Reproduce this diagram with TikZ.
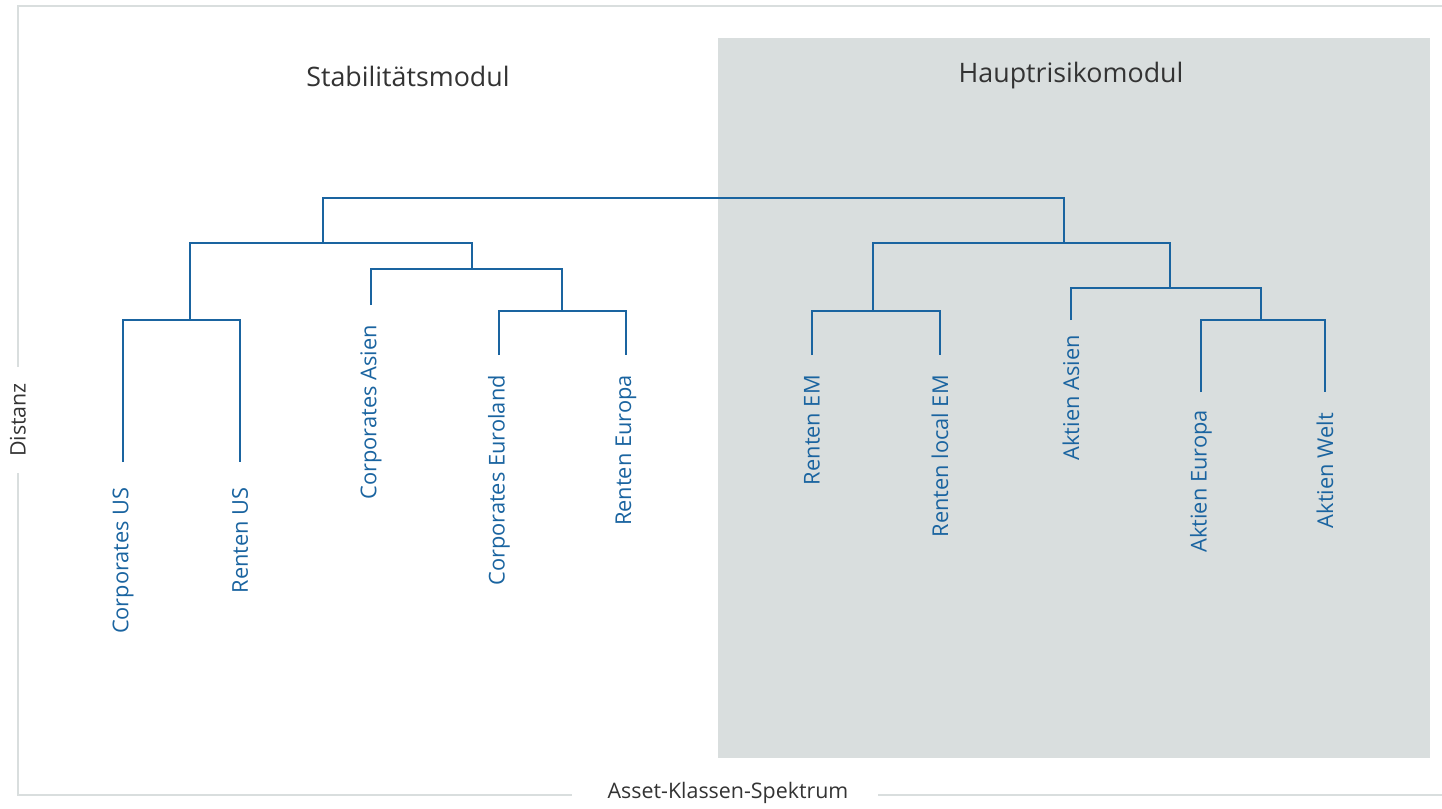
\documentclass[tikz,border=0pt]{standalone}
\usepackage{fontspec}
\setmainfont{Open Sans}
\usetikzlibrary{calc}
\definecolor{astblue}{HTML}{1A64A0}
\definecolor{astgrey}{HTML}{D9DEDE}
\definecolor{asttext}{HTML}{333333}

\begin{document}
\begin{tikzpicture}[x=1pt,y=-1pt,
    branch/.style={astblue,line width=2pt},
    axisline/.style={astgrey,line width=2.5pt},
    leaflabel/.style={astblue,rotate=90,anchor=east,inner sep=0pt,font=\fontsize{21.8}{24}\selectfont},
    modtitle/.style={asttext,font=\fontsize{26.8}{30}\selectfont},
    axislabel/.style={asttext,font=\fontsize{21.4}{24}\selectfont}]
    \useasboundingbox (0,0) rectangle (1442,808);

    % risk module background
    \fill[astgrey] (718,38) rectangle (1430,758);

    % axes
    \coordinate (top) at (18,6);
    \coordinate (topr) at (1442,6);
    \coordinate (origin) at (18,795);
    \coordinate (endx) at (1442,795);
    \node[axislabel,rotate=90] (dist) at (18,420) {Distanz};
    \node[axislabel] (spek) at (728,793) {Asset-Klassen-Spektrum};
    \draw[axisline] (topr) -- (top) -- (top |- 0,367);
    \draw[axisline] (origin |- 0,473) -- (origin) -- (572,795);
    \draw[axisline] (878,795) -- (endx);

    \node[modtitle] (stab) at (408,76) {Stabilitätsmodul};
    \node[modtitle] (haupt) at (1071,76) {Hauptrisikomodul};

    % leaves
    \coordinate (cus)  at (123,462);
    \coordinate (rus)  at (240,462);
    \coordinate (ca)   at (371,305);
    \coordinate (ce)   at (499,355);
    \coordinate (re)   at (626,355);
    \coordinate (rem)  at (812,355);
    \coordinate (rlem) at (940,355);
    \coordinate (aa)   at (1071,320);
    \coordinate (ae)   at (1201,392);
    \coordinate (aw)   at (1325,392);

    \node[leaflabel] (lcus)  at ($(cus)+(0,25)$)  {Corporates US};
    \node[leaflabel] (lrus)  at ($(rus)+(0,25)$)  {Renten US};
    \node[leaflabel] (lca)   at ($(ca)+(0,20)$)   {Corporates Asien};
    \node[leaflabel] (lce)   at ($(ce)+(0,20)$)   {Corporates Euroland};
    \node[leaflabel] (lre)   at ($(re)+(0,20)$)   {Renten Europa};
    \node[leaflabel] (lrem)  at ($(rem)+(0,20)$)  {Renten EM};
    \node[leaflabel] (lrlem) at ($(rlem)+(0,20)$) {Renten local EM};
    \node[leaflabel] (laa)   at ($(aa)+(0,15)$)   {Aktien Asien};
    \node[leaflabel] (lae)   at ($(ae)+(0,18)$)   {Aktien Europa};
    \node[leaflabel] (law)   at ($(aw)+(0,21)$)   {Aktien Welt};

    % junctions
    \coordinate (j1) at (190,320);
    \coordinate (j2) at (562,311);
    \coordinate (j3) at (472,269);
    \coordinate (j4) at (323,243);
    \coordinate (j5) at (873,311);
    \coordinate (j6) at (1261,320);
    \coordinate (j7) at (1170,288);
    \coordinate (j8) at (1064,243);
    \coordinate (root) at (693,198);

    \draw[branch] (cus) |- (j1) -| (rus);
    \draw[branch] (ce) |- (j2) -| (re);
    \draw[branch] (ca) |- (j3) -| (j2);
    \draw[branch] (j1) |- (j4) -| (j3);
    \draw[branch] (rem) |- (j5) -| (rlem);
    \draw[branch] (ae) |- (j6) -| (aw);
    \draw[branch] (aa) |- (j7) -| (j6);
    \draw[branch] (j5) |- (j8) -| (j7);
    \draw[branch] (j4) |- (root) -| (j8);
\end{tikzpicture}
\end{document}
